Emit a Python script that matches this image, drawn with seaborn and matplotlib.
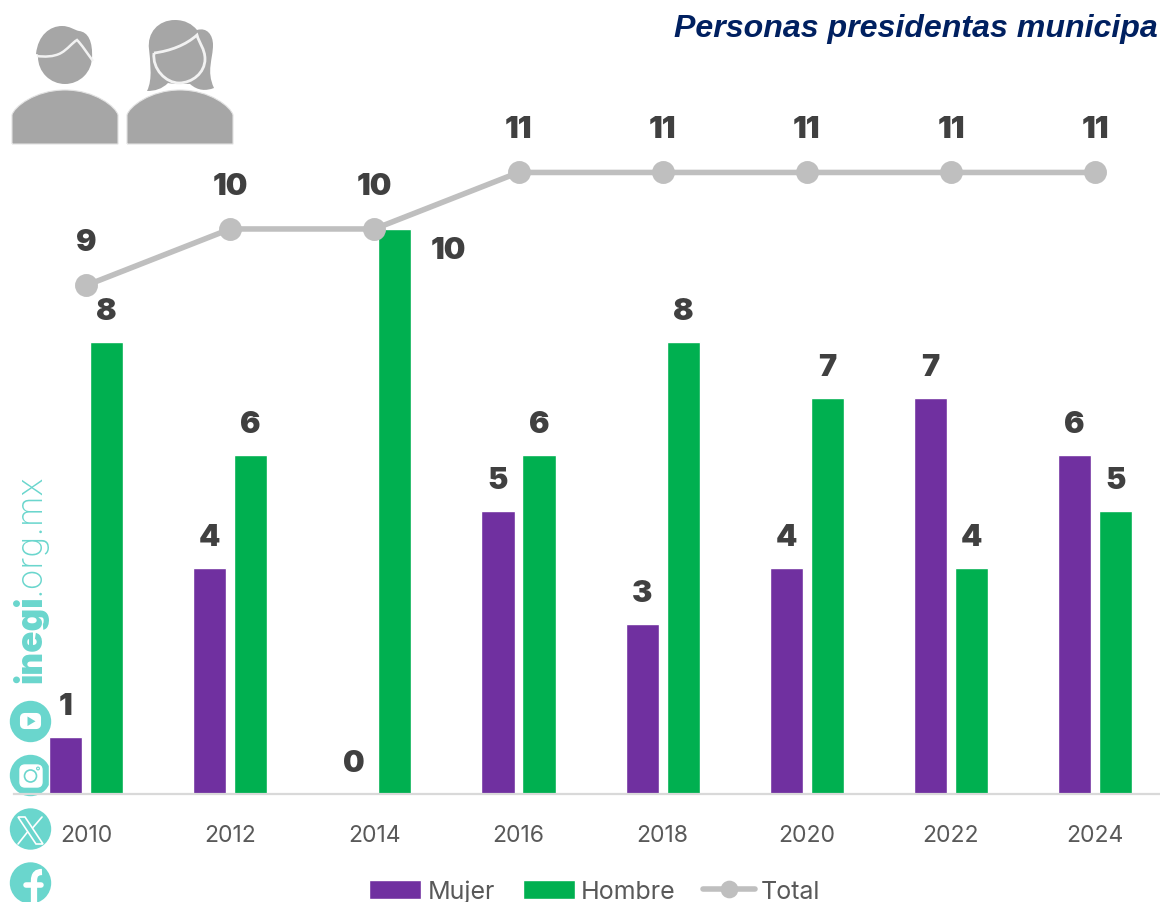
import matplotlib
matplotlib.use("Agg")
import matplotlib.pyplot as plt
from matplotlib.patches import Circle, FancyBboxPatch, PathPatch, Polygon
from matplotlib.path import Path
import pandas as pd
import seaborn as sns

years = ['2010', '2012', '2014', '2016', '2018', '2020', '2022', '2024']
mujer = [1, 4, 0, 5, 3, 4, 7, 6]
hombre = [8, 6, 10, 6, 8, 7, 4, 5]
total = [9, 10, 10, 11, 11, 11, 11, 11]

PURPLE = '#7030A0'
GREEN = '#00B050'
GREY_LINE = '#BFBFBF'
TEAL = '#6AD6CD'
ICON = '#A6A6A6'
DARK = '#404040'
TICK = '#595959'

sns.set_theme(style='white')
plt.rcParams['font.family'] = ['Inter', 'DejaVu Sans']

W, H = 1160, 903
fig = plt.figure(figsize=(W / 100, H / 100), dpi=100)

# background layer in pixel coords, for the logo and the social icons
bg = fig.add_axes([0, 0, 1, 1], zorder=0)
bg.set_xlim(0, W)
bg.set_ylim(H, 0)
bg.axis('off')


def curve(points, **kw):
    # points: start, then (c1, c2, end) cubic segments
    verts = [points[0]]
    codes = [Path.MOVETO]
    for p in points[1:]:
        verts.append(p)
        codes.append(Path.CURVE4)
    bg.add_patch(PathPatch(Path(verts, codes), **kw))


def body(x0):
    x1 = x0 + 106
    mid = x0 + 53
    curve([(x0, 145), (x0, 130), (x0, 122), (x0, 116),
           (x0 + 2, 108), (mid - 30, 91), (mid, 91),
           (mid + 30, 91), (x1 - 2, 108), (x1, 116),
           (x1, 122), (x1, 130), (x1, 145),
           (x1 - 30, 145), (x0 + 30, 145), (x0, 145)],
          fc=ICON, ec='#E2E2E2', lw=0.8)


# man
body(12)
bg.add_patch(Circle((65, 58), 27, fc=ICON, ec='none'))
curve([(36, 55), (38, 36), (50, 27), (62, 27),
       (70, 27), (74, 31), (79, 32),
       (88, 33), (93, 42), (92, 60),
       (86, 52), (82, 46), (77, 41),
       (70, 46), (62, 55), (50, 56),
       (44, 57), (40, 56), (36, 55)],
      fc=ICON, ec='none')
curve([(37, 57), (44, 58), (54, 58), (61, 54),
       (68, 50), (72, 44), (77, 41),
       (82, 46), (87, 54), (93, 62)],
      fc='none', ec='#F2F2F2', lw=1.8)

# woman
curve([(147, 92), (153, 80), (150, 62), (149, 50),
       (147, 34), (158, 21), (175, 21),
       (185, 21), (192, 25), (197, 31),
       (207, 28), (213, 36), (213, 46),
       (213, 60), (206, 72), (214, 89),
       (206, 92), (198, 92), (190, 85),
       (180, 85), (172, 85), (168, 84),
       (162, 90), (155, 92), (147, 92)],
      fc=ICON, ec='none')
curve([(154, 54), (170, 52), (186, 46), (197, 36),
       (199, 44), (205, 50), (205, 60),
       (205, 74), (192, 84), (179, 84),
       (166, 84), (152, 70), (154, 54)],
      fc=ICON, ec='#F2F2F2', lw=2)
body(127)

# social icons
for cy in [722.5, 776.5, 830, 884]:
    bg.add_patch(Circle((30.5, cy), 20.7, fc=TEAL, ec='none'))

bg.add_patch(FancyBboxPatch((21, 715), 19, 14, boxstyle='round,pad=0,rounding_size=4',
                            fc='white', ec='white', lw=1.5))
bg.add_patch(Polygon([(27.5, 717.5), (27.5, 727), (35.5, 722.3)], fc=TEAL, ec='none'))

bg.add_patch(FancyBboxPatch((20, 766), 22, 22, boxstyle='round,pad=0,rounding_size=5',
                            fc='white', ec='white', lw=1))
bg.add_patch(Circle((30.5, 777), 6, fc='none', ec=TEAL, lw=1.2))
bg.add_patch(Circle((38, 769.5), 1.4, fc='none', ec=TEAL, lw=0.8))

bg.add_patch(Polygon([(18, 818), (25, 818), (43, 845), (36, 845)], fc='none', ec='white', lw=1.2))
bg.plot([42, 33], [818, 828.5], color='white', lw=1.2)
bg.plot([18, 27.5], [845, 833], color='white', lw=1.2)

f_icon = PathPatch(Path([(34, 905), (34, 882), (34, 875), (37, 873), (42, 873)],
                        [Path.MOVETO, Path.LINETO, Path.CURVE4, Path.CURVE4, Path.CURVE4]),
                   fc='none', ec='white', lw=4.5)
bg.add_patch(f_icon)
bg.plot([26, 41], [886, 886], color='white', lw=4)

# watermark, rotated
inegi = bg.text(30, 683, 'inegi', rotation=90, ha='center', va='bottom', color=TEAL,
                fontsize=25.3, fontweight='black')
fig.canvas.draw()
ext = inegi.get_window_extent()
bg.text(30, H - ext.y1, '.org.mx', rotation=90, ha='center', va='bottom', color=TEAL,
        fontsize=25.3, fontweight='light')

# chart
ax = fig.add_axes([14 / W, (H - 795) / H, (W - 14) / W, 795 / H], zorder=1)
ax.patch.set_alpha(0)

df = pd.DataFrame({'Año': years * 2,
                   'Valor': mujer + hombre,
                   'Sexo': ['Mujer'] * len(years) + ['Hombre'] * len(years)})

sns.barplot(data=df, x='Año', y='Valor', hue='Sexo', palette={'Mujer': PURPLE, 'Hombre': GREEN},
            width=0.569, gap=0.19, saturation=1, ax=ax)
sns.pointplot(x=years, y=total, color=GREY_LINE, label='Total', markers='o',
              markersize=13.5, linewidth=4, errorbar=None, ax=ax)

ax.set_xlim(-0.5, 7.45)
ax.set_ylim(0, 14.07)
ax.set_xlabel('')
ax.set_ylabel('')
ax.set_yticks([])
ax.tick_params(axis='x', length=0, pad=21.5, labelsize=16.5, labelcolor=TICK)
sns.despine(ax=ax, left=True)
ax.spines['bottom'].set_color('#D9D9D9')
ax.spines['bottom'].set_linewidth(1.6)

LABEL = dict(textcoords='offset points', ha='center', va='center', color=DARK,
             fontsize=22, fontweight='black', annotation_clip=False)

for cont in ax.containers:
    for bar in cont:
        val = bar.get_height()
        x = bar.get_x() + bar.get_width() / 2
        dx, dy = 0, 31 * 0.72
        if val == 10:
            dx, dy = 53 * 0.72, -21 * 0.72
        ax.annotate(f'{val:.0f}', (x, val), xytext=(dx, dy), **LABEL)

for i, val in enumerate(total):
    ax.annotate(str(val), (i, val), xytext=(0, 43 * 0.72), **LABEL)

handles, labels = ax.get_legend_handles_labels()
leg = ax.legend(handles, labels, ncol=3, loc='center', bbox_to_anchor=(595 / W, 1 - 892 / H),
                bbox_transform=fig.transFigure, frameon=False, fontsize=18,
                handlelength=2.08, handleheight=0.8, handletextpad=0.25, columnspacing=1.1,
                numpoints=1, markerscale=0.72, labelcolor=TICK, borderpad=0)

fig.text(1158 / W, 1 - 29 / H, 'Personas presidentas municipa', ha='right', va='center',
         family='Liberation Sans', style='italic', fontweight='bold', fontsize=23.1, color='#002060')

fig.savefig('out.png', dpi=100)
